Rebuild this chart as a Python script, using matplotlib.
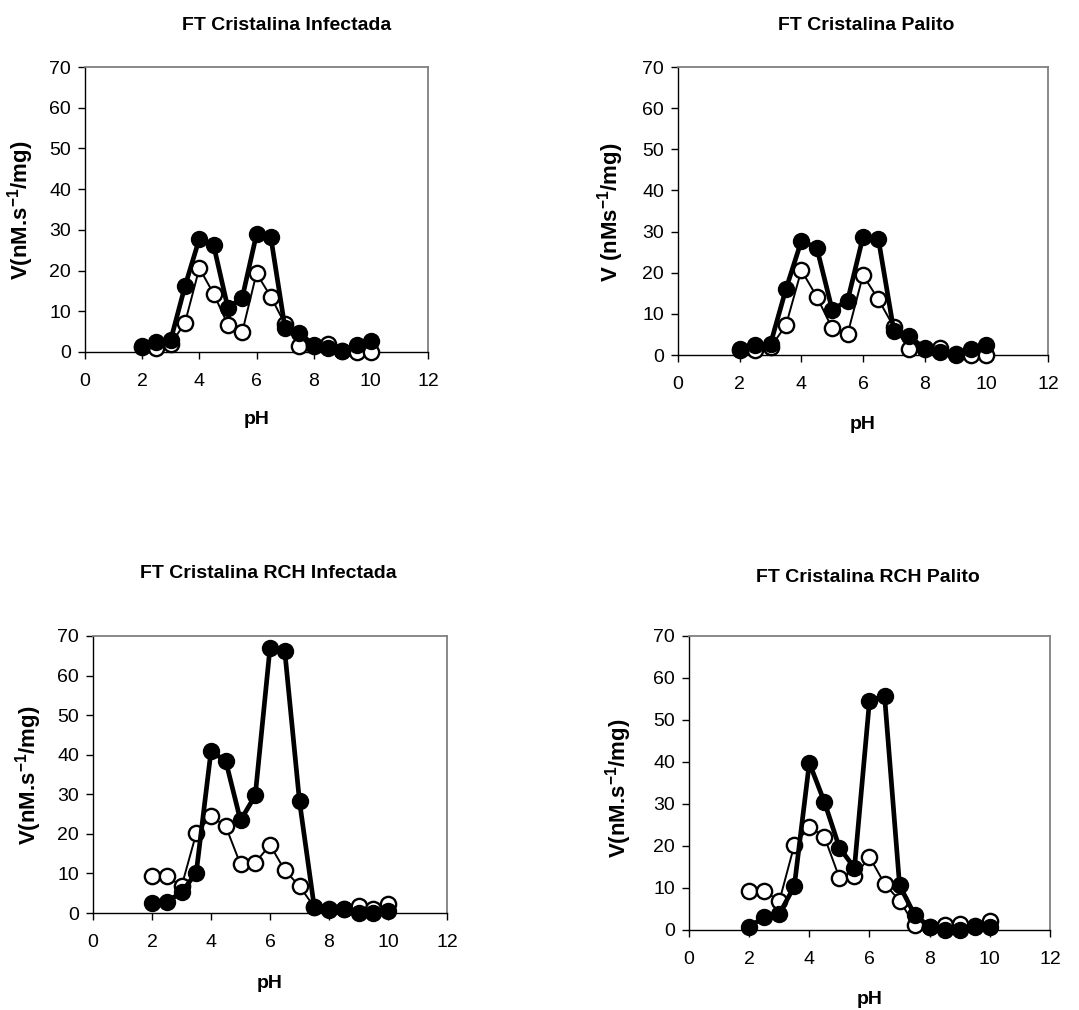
import numpy as np
import matplotlib
matplotlib.use("Agg")
import matplotlib.pyplot as plt

plt.rcParams["font.family"] = ["Liberation Sans", "DejaVu Sans"]
plt.rcParams["mathtext.fontset"] = "custom"
plt.rcParams["mathtext.bf"] = "Liberation Sans:bold"
plt.rcParams["mathtext.rm"] = "Liberation Sans"

ph = [2, 2.5, 3, 3.5, 4, 4.5, 5, 5.5, 6, 6.5, 7, 7.5, 8, 8.5, 9, 9.5, 10]

# FT Cristalina Infectada
infFilled = [1.5, 2.5, 3.0, 16.2, 27.8, 26.2, 10.8, 13.3, 28.9, 28.2, 5.8, 4.7, 1.7, 0.9, 0.2, 1.6, 2.7]
infOpen = [1.2, 1.1, 1.9, 7.2, 20.6, 14.3, 6.7, 4.9, 19.3, 13.6, 6.8, 1.5, 1.4, 2.0, 0.3, 0.0, 0.0]

# FT Cristalina Palito
palFilled = [1.5, 2.4, 2.7, 16.0, 27.7, 26.1, 11.0, 13.2, 28.7, 28.1, 5.9, 4.5, 1.6, 0.8, 0.1, 1.4, 2.5]
palOpen = [1.2, 1.1, 1.9, 7.2, 20.6, 14.2, 6.5, 5.1, 19.4, 13.5, 6.8, 1.5, 1.4, 1.6, 0.3, 0.0, 0.0]

# FT Cristalina RCH Infectada
rchInfFilled = [2.5, 2.8, 5.2, 10.2, 40.9, 38.4, 23.4, 29.7, 67.0, 66.2, 28.2, 1.5, 0.8, 1.0, 0.0, 0.0, 0.4]
rchInfOpen = [9.4, 9.4, 6.7, 20.1, 24.5, 21.9, 12.3, 12.7, 17.2, 10.8, 6.8, 1.5, 1.0, 1.0, 1.7, 1.0, 2.3]

# FT Cristalina RCH Palito
rchPalFilled = [0.8, 3.0, 3.8, 10.4, 39.8, 30.5, 19.6, 14.8, 54.6, 55.8, 10.6, 3.6, 0.8, 0.1, 0.0, 0.6, 0.8]
rchPalOpen = [9.4, 9.4, 6.8, 20.2, 24.6, 22.2, 12.4, 12.8, 17.4, 11.0, 7.0, 1.2, 0.8, 1.2, 1.4, 1.0, 2.2]

titles = ["FT Cristalina Infectada", "FT Cristalina Palito",
          "FT Cristalina RCH Infectada", "FT Cristalina RCH Palito"]
yLabels = [r"V(nM.s$^{\mathbf{-1}}$/mg)", r"V (nMs$^{\mathbf{-1}}$/mg)",
           r"V(nM.s$^{\mathbf{-1}}$/mg)", r"V(nM.s$^{\mathbf{-1}}$/mg)"]

W, H = 1079, 1010
fig = plt.figure(figsize=(W / 100, H / 100), dpi=100)


def px(x, y):
	return x / W, 1 - y / H


def drawPanel(rect, filled, opened, title, titlePos, yLabel, yLabelPos, xLabelPos):
	ax = fig.add_axes(rect)
	ax.plot(ph, opened, color="black", lw=1.4, marker="o", markersize=11,
			markerfacecolor="white", markeredgecolor="black", markeredgewidth=1.7, zorder=3)
	ax.plot(ph, filled, color="black", lw=3.4, marker="o", markersize=11.5,
			markerfacecolor="black", markeredgecolor="black", zorder=4)
	ax.set_xlim(0, 12)
	ax.set_ylim(0, 70)
	ax.set_xticks(np.arange(0, 13, 2))
	ax.set_yticks(np.arange(0, 71, 10))
	for s in ["top", "right"]:
		ax.spines[s].set_color("#808080")
		ax.spines[s].set_linewidth(1.3)
	for s in ["left", "bottom"]:
		ax.spines[s].set_color("black")
		ax.spines[s].set_linewidth(1.0)
	ax.tick_params(axis="x", direction="out", length=5, width=1, labelsize=14, pad=10)
	ax.tick_params(axis="y", direction="out", length=5, width=1, labelsize=14, pad=5)
	for line in ax.get_lines():
		line.set_clip_on(False)

	tx, ty = px(*titlePos)
	fig.text(tx, ty, title, ha="center", va="center", fontsize=14, fontweight="bold")
	lx, ly = px(*yLabelPos)
	fig.text(lx, ly, yLabel, ha="center", va="center", rotation=90, fontsize=16, fontweight="bold")
	xx, xy = px(*xLabelPos)
	fig.text(xx, xy, "pH", ha="center", va="center", fontsize=14, fontweight="bold")
	return ax


def rectFromPx(left, top, right, bottom):
	return [left / W, 1 - bottom / H, (right - left) / W, (bottom - top) / H]


drawPanel(rectFromPx(85, 67, 428, 352), infFilled, infOpen, titles[0], (287, 25),
		yLabels[0], (21, 210), (257, 420))
drawPanel(rectFromPx(678, 67, 1048, 355), palFilled, palOpen, titles[1], (866, 25),
		yLabels[1], (611, 212), (863, 425))
drawPanel(rectFromPx(93, 636, 447, 913), rchInfFilled, rchInfOpen, titles[2], (268, 573),
		yLabels[2], (29, 775), (270, 983))
drawPanel(rectFromPx(689, 636, 1050, 930), rchPalFilled, rchPalOpen, titles[3], (868, 577),
		yLabels[3], (619, 788), (870, 1000))

plt.savefig("out.png", dpi=100)
